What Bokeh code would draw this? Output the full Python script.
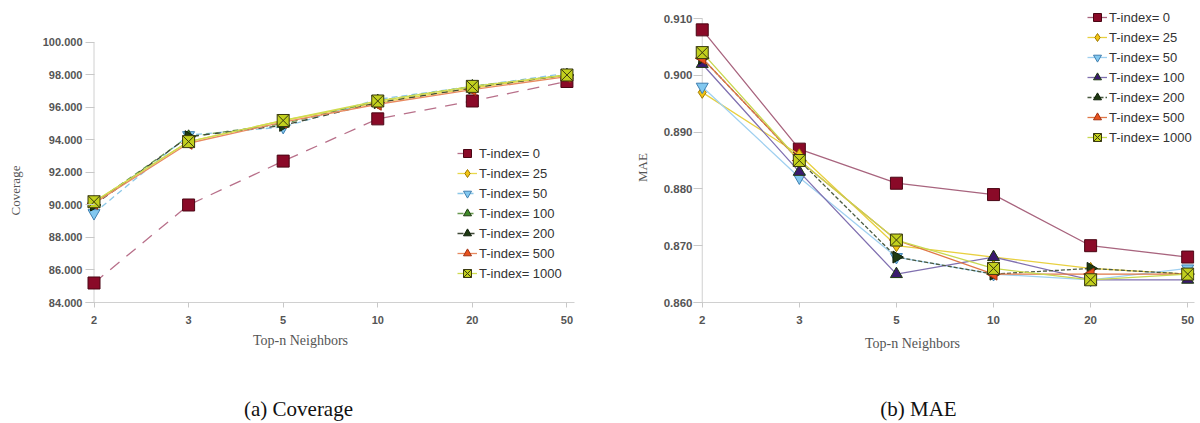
import math
from bokeh.plotting import figure
from bokeh.layouts import row, column
from bokeh.models import FixedTicker, NumeralTickFormatter, Legend, LegendItem, Range1d
from bokeh.core.properties import value
from bokeh.embed import file_html
from bokeh.resources import INLINE

# ---------------- data ----------------
neighbors = ["2", "3", "5", "10", "20", "50"]
series_names = ["T-index= 0", "T-index= 25", "T-index= 50", "T-index= 100",
                "T-index= 200", "T-index= 500", "T-index= 1000"]

cov_t0 = [85.2, 90.0, 92.7, 95.3, 96.4, 97.6]
cov_t25 = [90.2, 93.9, 95.2, 96.3, 97.2, 98.0]
cov_t50 = [89.5, 94.3, 94.8, 96.5, 97.3, 98.1]
cov_t100 = [90.1, 94.2, 95.0, 96.4, 97.3, 98.0]
cov_t200 = [90.0, 94.2, 94.9, 96.3, 97.2, 98.0]
cov_t500 = [90.1, 93.8, 95.1, 96.2, 97.1, 97.9]
cov_t1000 = [90.2, 93.9, 95.2, 96.4, 97.3, 98.0]

mae_t0 = [0.908, 0.887, 0.881, 0.879, 0.870, 0.868]
mae_t25 = [0.897, 0.886, 0.870, 0.868, 0.866, 0.865]
mae_t50 = [0.898, 0.882, 0.868, 0.865, 0.864, 0.866]
mae_t100 = [0.902, 0.883, 0.865, 0.868, 0.864, 0.864]
mae_t200 = [0.903, 0.885, 0.868, 0.865, 0.866, 0.865]
mae_t500 = [0.903, 0.885, 0.871, 0.865, 0.865, 0.865]
mae_t1000 = [0.904, 0.885, 0.871, 0.866, 0.864, 0.865]

cov_ticks = [84, 86, 88, 90, 92, 94, 96, 98, 100]
mae_ticks = [0.86, 0.87, 0.88, 0.89, 0.90, 0.91]

cov_series = [cov_t0, cov_t25, cov_t50, cov_t100, cov_t200, cov_t500, cov_t1000]
mae_series = [mae_t0, mae_t25, mae_t50, mae_t100, mae_t200, mae_t500, mae_t1000]

x_title = "Top-n Neighbors"
captions = ["(a) Coverage", "(b) MAE"]
y_titles = ["Coverage", "MAE"]

# ---------------- styles ----------------
markers = ["square", "diamond", "inverted_triangle", "triangle", "triangle", "triangle", "square_x"]
angles = [0, 0, 0, 0, -math.pi / 2, math.pi / 2, 0]
fills_cov = ["#8a0a28", "#f2c414", "#82c8f0", "#3f8a28", "#1f3a12", "#e8521e", "#c2d01e"]
fills_mae = ["#8a0a28", "#f2c414", "#82c8f0", "#3a1a6e", "#1f3a12", "#e8521e", "#c2d01e"]
outlines = ["#4a0614", "#a07a00", "#3f7fb0", "#1e3a10", "#0e1e08", "#a03010", "#3a3a10"]
lines_cov = [("#b8708a", "12 9"), ("#e8d84a", "solid"), ("#8cc8e8", "6 4"), ("#6a9a50", "6 4"),
             ("#404a38", "6 5"), ("#e88a60", "solid"), ("#d0dc50", "solid")]
lines_mae = [("#a8647e", "solid"), ("#e8d040", "solid"), ("#a0d0f0", "solid"), ("#8070b0", "solid"),
             ("#4a5a40", "4 2"), ("#e07848", "solid"), ("#c8d850", "solid")]

TICK_FONT = "Liberation Sans"
SERIF = "Liberation Serif"

ROW_H = 330
TOP = 6
BOTTOM = 28
FRAME_BOTTOM = ROW_H - BOTTOM


def blank_fig(x0, x1, y_bottom, y_top, width, height, mt, mb):
    f = figure(width=width, height=height, output_backend="svg", toolbar_location=None,
               x_range=Range1d(x0, x1), y_range=Range1d(y_bottom, y_top),
               x_axis_type=None, y_axis_type=None,
               min_border_left=0, min_border_right=0, min_border_top=mt, min_border_bottom=mb)
    f.outline_line_color = None
    f.grid.visible = False
    f.background_fill_color = "white"
    f.border_fill_color = "white"
    return f


def ylabel_fig(text, x0, x1, cx, cy):
    # data coordinates of this strip equal page pixels
    f = blank_fig(x0, x1, FRAME_BOTTOM, TOP, x1 - x0, ROW_H, TOP, BOTTOM)
    f.text(x=[cx], y=[cy], text=[text], angle=math.pi / 2, text_align="center",
           text_baseline="middle", text_font=value(SERIF), text_font_size="13px",
           text_color="#555555")
    return f


def make_chart(series, ticks, y_lo, y_hi, fills, lines, width, x_hi, mb_left, mb_right,
               tick_size, lab_standoff, legend_loc):
    xs = list(range(len(neighbors)))
    p = figure(width=width, height=ROW_H, output_backend="svg", toolbar_location=None,
               x_range=Range1d(-0.09, x_hi), y_range=Range1d(y_lo, y_hi),
               min_border_left=mb_left, min_border_right=mb_right,
               min_border_top=TOP, min_border_bottom=BOTTOM)
    p.outline_line_color = None
    p.grid.visible = False
    p.background_fill_color = "white"
    p.border_fill_color = "white"

    ya = p.yaxis[0]
    ya.ticker = FixedTicker(ticks=ticks)
    ya.formatter = NumeralTickFormatter(format="0.000")
    ya.axis_line_color = None
    ya.major_tick_in = 9
    ya.major_tick_out = 0
    ya.major_tick_line_color = "#c8c8c8"
    ya.minor_tick_line_color = None
    ya.major_label_text_font = TICK_FONT
    ya.major_label_text_font_style = "bold"
    ya.major_label_text_font_size = tick_size
    ya.major_label_text_color = "#555555"
    ya.major_label_standoff = lab_standoff

    xa = p.xaxis[0]
    xa.ticker = FixedTicker(ticks=xs)
    xa.major_label_overrides = {i: n for i, n in enumerate(neighbors)}
    xa.axis_line_color = "#d0d0d0"
    xa.major_tick_line_color = "#c8c8c8"
    xa.major_tick_in = 0
    xa.major_tick_out = 5
    xa.minor_tick_line_color = None
    xa.major_label_text_font = TICK_FONT
    xa.major_label_text_font_style = "bold"
    xa.major_label_text_font_size = tick_size
    xa.major_label_text_color = "#555555"
    xa.major_label_standoff = 8

    # y axis line at the first category, from the lowest to the highest tick
    p.line([xs[0], xs[0]], [ticks[0], ticks[-1]], line_color="#d0d0d0", line_width=1)

    items = []
    for i, vals in enumerate(series):
        lc, ld = lines[i]
        lr = p.line(xs, vals, line_color=lc, line_width=1.3, line_dash=ld)
        sr = p.scatter(xs, vals, marker=markers[i], size=12, angle=angles[i],
                       fill_color=fills[i], line_color=outlines[i], line_width=1)
        items.append(LegendItem(label=series_names[i], renderers=[lr, sr]))

    leg = Legend(items=items, location=legend_loc, padding=0, margin=0, spacing=0,
                 glyph_height=20, glyph_width=20, label_height=20, label_standoff=2,
                 label_text_font=TICK_FONT, label_text_font_size="13px",
                 label_text_color="#333333", background_fill_alpha=0,
                 border_line_color=None)
    p.add_layout(leg, "center")
    return p


lab1 = ylabel_fig(y_titles[0], 0, 36, 15, 190)
p1 = make_chart(cov_series, cov_ticks, 84, 102.215, fills_cov, lines_cov, width=564,
                x_hi=5.08, mb_left=49, mb_right=26, tick_size="11px", lab_standoff=3,
                legend_loc=(372, 19))
lab2 = ylabel_fig(y_titles[1], 600, 652, 642, 167)
p2 = make_chart(mae_series, mae_ticks, 0.86, 0.912113, fills_mae, lines_mae, width=548,
                x_hi=5.07, mb_left=41, mb_right=6, tick_size="11.5px", lab_standoff=1,
                legend_loc=(394, 155))

# bottom strip: data coordinates equal page pixels
cap = blank_fig(0, 1200, 423, ROW_H, 1200, 423 - ROW_H, 0, 0)
cap.text(x=[300, 912], y=[340, 343], text=[x_title, x_title], text_align="center",
         text_baseline="middle", text_font=value(SERIF), text_font_size="14px",
         text_color="#555555")
cap.text(x=[298, 918], y=[408, 408], text=captions, text_align="center",
         text_baseline="middle", text_font=value(SERIF), text_font_size="21px",
         text_color="#111111")

layout = column(row(lab1, p1, lab2, p2, spacing=0), cap, spacing=0)
open("out.html", "w").write(file_html(layout, INLINE))
